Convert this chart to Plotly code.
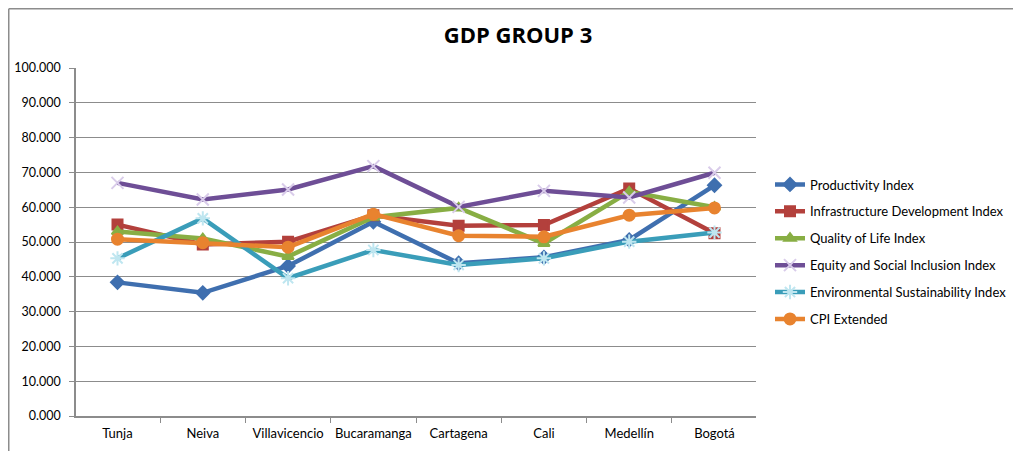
import plotly.graph_objects as go

cities = ["Tunja", "Neiva", "Villavicencio", "Bucaramanga", "Cartagena", "Cali", "Medellín", "Bogotá"]

productivity = [38.4, 35.4, 43.1, 55.8, 43.9, 45.6, 50.6, 66.3]
infrastructure = [55.0, 49.3, 50.1, 57.7, 54.7, 54.9, 65.4, 52.5]
quality_of_life = [53.0, 51.0, 45.8, 57.1, 59.8, 49.6, 64.4, 60.0]
equity = [67.0, 62.2, 65.1, 71.8, 60.1, 64.7, 62.8, 69.9]
environmental = [45.3, 56.8, 39.6, 47.7, 43.4, 45.3, 50.1, 52.7]
cpi_extended = [50.8, 49.8, 48.5, 58.0, 51.8, 51.5, 57.7, 59.8]

series = [
    ("Productivity Index", productivity, "#3F6FAF", "diamond", 10, "#3F6FAF", "#3F6FAF"),
    ("Infrastructure Development Index", infrastructure, "#B3403C", "square", 10, "#B3403C", "#B3403C"),
    ("Quality of Life Index", quality_of_life, "#88AE44", "triangle-up", 10, "#88AE44", "#88AE44"),
    ("Equity and Social Inclusion Index", equity, "#6E4E96", "x-thin", 12, "#6E4E96", "#D9CCEA"),
    ("Environmental Sustainability Index", environmental, "#3A9DB9", "asterisk", 12, "#3A9DB9", "#BFE6F0"),
    ("CPI Extended", cpi_extended, "#E8832F", "circle", 11, "#E8832F", "#E8832F"),
]

fig = go.Figure()
for i, (name, vals, color, sym, size, fill, mline) in enumerate(series):
    fig.add_trace(go.Scatter(
        x=cities, y=vals, name=name, mode="lines+markers",
        line=dict(color=color, width=4.5),
        marker=dict(symbol=sym, size=size, color=fill,
                    line=dict(color=mline, width=2)),
        legendgroup=f"g{i}",
    ))

W, H = 1013, 443
ML, MR, MT, MB = 68, 265, 60, 35
PW, PH = W - ML - MR, H - MT - MB

grid = "#8C8C8C"
fig.update_layout(
    width=W, height=H,
    margin=dict(l=ML, r=MR, t=MT, b=MB, autoexpand=False),
    paper_bgcolor="white", plot_bgcolor="white",
    font=dict(family="Lato, Open Sans, sans-serif", size=13, color="#000000"),
    title=dict(text="<b>GDP GROUP 3</b>", x=510 / W, xref="container", xanchor="center",
               y=1 - 27 / H, yref="container", yanchor="middle",
               font=dict(size=22, family="Open Sans, Lato, sans-serif", color="#000000")),
    xaxis=dict(showline=True, linecolor=grid, linewidth=1.5, showgrid=False,
               ticks="outside", tickson="boundaries", ticklen=5, tickcolor=grid,
               ticklabelstandoff=5, tickangle=0, automargin=False,
               tickfont=dict(size=13)),
    yaxis=dict(range=[0, 100], dtick=10, tickformat=".3f",
               showline=True, linecolor=grid, linewidth=1.5,
               showgrid=True, gridcolor=grid, gridwidth=1,
               ticks="outside", ticklen=5, tickcolor=grid, automargin=False,
               ticklabelstandoff=6, tickfont=dict(size=12.5), zeroline=False),
    legend=dict(x=(762 - ML) / PW, xref="paper", xanchor="left",
                y=1 - (244 - MT) / PH, yanchor="middle", tracegroupgap=7,
                font=dict(size=13), bgcolor="rgba(0,0,0,0)",
                itemwidth=30),
    showlegend=True,
)

# chart border (top and left lines)
top = (H - MB - 0.75) / PH
left = (0.75 - ML) / PW
fig.add_shape(type="line", xref="paper", yref="paper",
              x0=left, x1=(W - ML) / PW, y0=top, y1=top,
              line=dict(color="#8C8C8C", width=1.5))
fig.add_shape(type="line", xref="paper", yref="paper",
              x0=left, x1=left, y0=-MB / PH, y1=top,
              line=dict(color="#8C8C8C", width=1.5))

fig.write_html("out.html")
